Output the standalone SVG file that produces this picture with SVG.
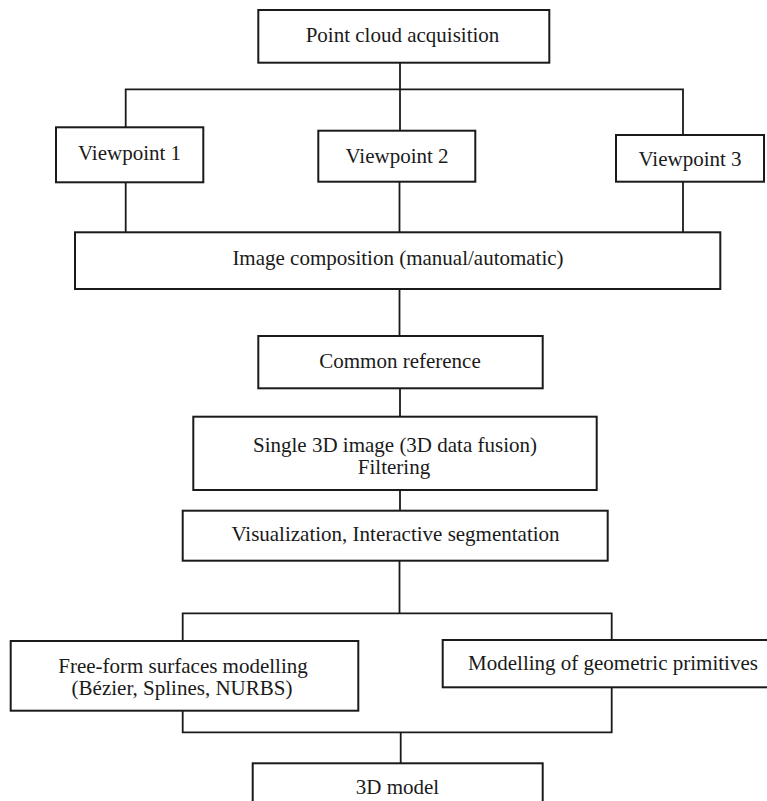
<svg xmlns="http://www.w3.org/2000/svg" width="767" height="801" viewBox="0 0 767 801">
<style>
  .box { fill: #ffffff; stroke: #1a1a1a; stroke-width: 2; }
  .lbl { font-family: "Liberation Serif", "Times New Roman", serif; font-size: 21px; fill: #1a1a1a; text-anchor: middle; }
  .conn { stroke: #1a1a1a; stroke-width: 1.8; fill: none; }
</style>
<rect x="0" y="0" width="767" height="801" fill="#ffffff"/>
<g id="connectors">
  <path class="conn" d="M400,62.7 V130.7"/>
  <path class="conn" d="M125.7,127.3 V89.3 H683 V135"/>
  <path class="conn" d="M125.7,182.3 V232.3"/>
  <path class="conn" d="M399.5,181.7 V232.3"/>
  <path class="conn" d="M683,181.7 V232.3"/>
  <path class="conn" d="M399.5,289 V336"/>
  <path class="conn" d="M400,388.3 V416.7"/>
  <path class="conn" d="M400,490 V510.7"/>
  <path class="conn" d="M399.5,560.7 V613.3"/>
  <path class="conn" d="M182.7,641 V613.3 H611.7 V640"/>
  <path class="conn" d="M182.7,710.7 V732.3 H611.7 V687.3"/>
  <path class="conn" d="M400.7,732.3 V763.3"/>
</g>
<g id="point-cloud">
  <rect class="box" x="258.3" y="10" width="291" height="52.7"/>
  <text class="lbl" x="402.5" y="42">Point cloud acquisition</text>
</g>
<g id="viewpoint-1">
  <rect class="box" x="56" y="127.3" width="147.3" height="55"/>
  <text class="lbl" x="129.5" y="159.5">Viewpoint 1</text>
</g>
<g id="viewpoint-2">
  <rect class="box" x="318.3" y="130.7" width="157" height="51"/>
  <text class="lbl" x="397" y="162.5">Viewpoint 2</text>
</g>
<g id="viewpoint-3">
  <rect class="box" x="616" y="135" width="148" height="46.7"/>
  <text class="lbl" x="690" y="166">Viewpoint 3</text>
</g>
<g id="image-composition">
  <rect class="box" x="75" y="232.3" width="645.3" height="56.7"/>
  <text class="lbl" x="398" y="264.5">Image composition (manual/automatic)</text>
</g>
<g id="common-reference">
  <rect class="box" x="258.3" y="336" width="284.4" height="52.3"/>
  <text class="lbl" x="400" y="368">Common reference</text>
</g>
<g id="single-3d-image">
  <rect class="box" x="193.3" y="416.7" width="403.4" height="73.3"/>
  <text class="lbl" x="395" y="451.5">Single 3D image (3D data fusion)</text>
  <text class="lbl" x="394" y="474">Filtering</text>
</g>
<g id="visualization">
  <rect class="box" x="182.7" y="510.7" width="425" height="50"/>
  <text class="lbl" x="395.5" y="541">Visualization, Interactive segmentation</text>
</g>
<g id="free-form">
  <rect class="box" x="10.7" y="641" width="347.6" height="69.7"/>
  <text class="lbl" x="183" y="673">Free-form surfaces modelling</text>
  <text class="lbl" x="182" y="695">(Bézier, Splines, NURBS)</text>
</g>
<g id="geometric-primitives">
  <rect class="box" x="442.7" y="640" width="330" height="47.3"/>
  <text class="lbl" x="613" y="670">Modelling of geometric primitives</text>
</g>
<g id="model-3d">
  <rect class="box" x="252.7" y="763.3" width="290" height="45"/>
  <text class="lbl" x="397.5" y="793.5">3D model</text>
</g>
</svg>
